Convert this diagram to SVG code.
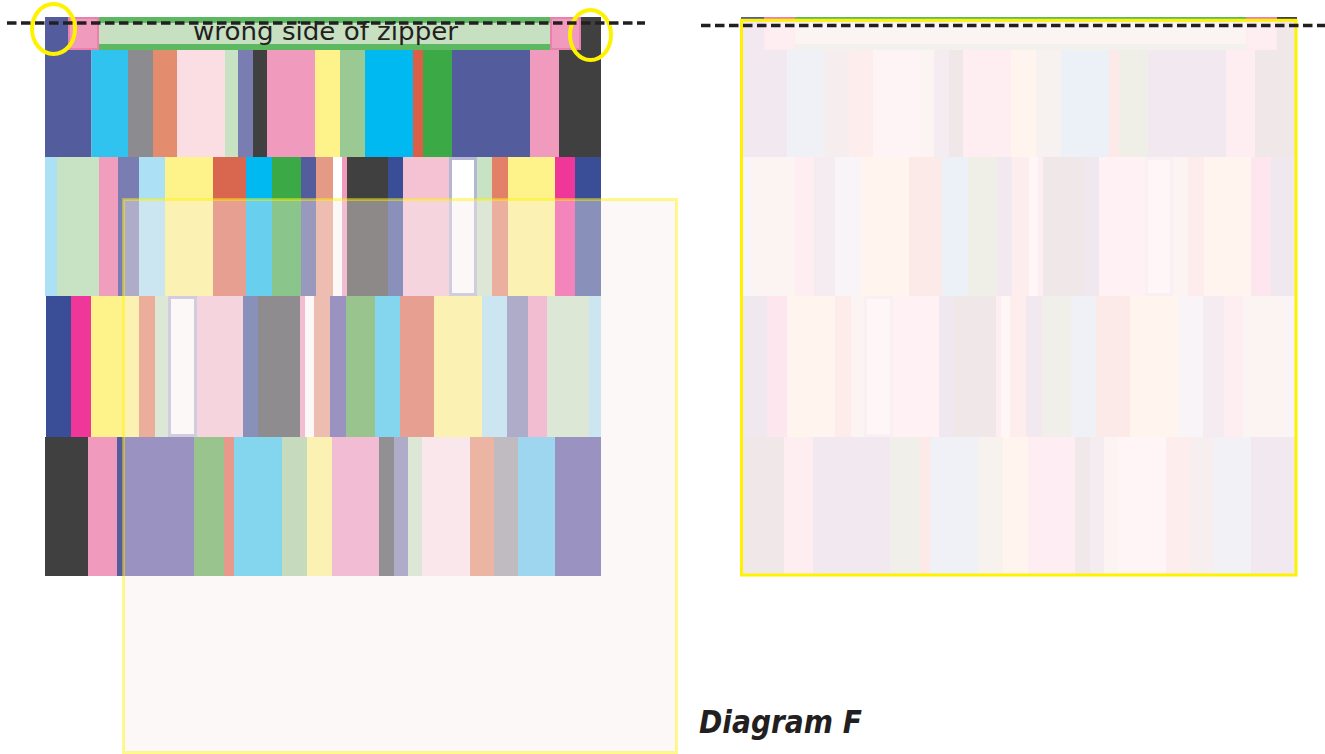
<svg xmlns="http://www.w3.org/2000/svg" xmlns:xlink="http://www.w3.org/1999/xlink" width="1325" height="754" viewBox="0 0 1325 754">
<style>
.dash{stroke:#231f20;stroke-width:3.5;stroke-dasharray:9.5 4.5;fill:none}
.ring{fill:none;stroke:#fff200;stroke-width:4}
.wb{fill:#ffffff;stroke:#b5b5d6;stroke-width:3}
.lbl{font-family:"DejaVu Sans","Liberation Sans",sans-serif;fill:#231f20}
</style>
<defs>
<g id="quilt">
  <!-- top strip -->
  <rect x="45" y="17" width="23" height="33" fill="#535c9c"/>
  <rect x="69" y="18" width="29" height="31" fill="#f09abd" stroke="#e882ad" stroke-width="2"/>
  <rect x="99" y="17" width="451" height="33" fill="#5db862"/>
  <rect x="99" y="23" width="451" height="21" fill="#c6e0c1"/>
  <rect x="551" y="18" width="29" height="31" fill="#f09abd" stroke="#e882ad" stroke-width="2"/>
  <rect x="581" y="17" width="20" height="33" fill="#404040"/>
  <!-- row 1 -->
  <g transform="translate(0,50)">
    <rect x="45" width="46.5" height="107" fill="#535c9c"/>
    <rect x="91.5" width="36.5" height="107" fill="#31c3f0"/>
    <rect x="128" width="25" height="107" fill="#8c8b8f"/>
    <rect x="153" width="24" height="107" fill="#e38c6e"/>
    <rect x="177" width="48" height="107" fill="#fbdee3"/>
    <rect x="225" width="13" height="107" fill="#c8e2c4"/>
    <rect x="238" width="15" height="107" fill="#7a7db1"/>
    <rect x="253" width="14" height="107" fill="#404040"/>
    <rect x="267" width="48" height="107" fill="#f09abd"/>
    <rect x="315" width="25" height="107" fill="#fef38a"/>
    <rect x="340" width="25" height="107" fill="#9ac993"/>
    <rect x="365" width="48" height="107" fill="#00b9f1"/>
    <rect x="413" width="10" height="107" fill="#db5e47"/>
    <rect x="423" width="29" height="107" fill="#3ca947"/>
    <rect x="452" width="78" height="107" fill="#535c9c"/>
    <rect x="530" width="29" height="107" fill="#f09abd"/>
    <rect x="559" width="42" height="107" fill="#404040"/>
  </g>
  <!-- row 2 -->
  <g transform="translate(0,157)">
    <rect x="45" width="12" height="139" fill="#ace0f5"/>
    <rect x="57" width="42" height="139" fill="#c8e2c4"/>
    <rect x="99" width="19" height="139" fill="#f09ebe"/>
    <rect x="118" width="21" height="139" fill="#7a7db1"/>
    <rect x="139" width="26" height="139" fill="#ace0f5"/>
    <rect x="165" width="48" height="139" fill="#fef38a"/>
    <rect x="213" width="33" height="139" fill="#d9674f"/>
    <rect x="246" width="26" height="139" fill="#00b9f1"/>
    <rect x="272" width="29" height="139" fill="#3ca947"/>
    <rect x="301" width="15" height="139" fill="#535c9c"/>
    <rect x="316" width="17" height="139" fill="#e49a85"/>
    <rect x="333" width="9" height="139" fill="#ffffff"/>
    <rect x="342" width="5" height="139" fill="#f09abd"/>
    <rect x="347" width="41" height="139" fill="#404040"/>
    <rect x="388" width="15" height="139" fill="#3a4d97"/>
    <rect x="403" width="46" height="139" fill="#f5c2d3"/>
    <rect x="450.5" y="1.5" width="25" height="136" class="wb"/>
    <rect x="477" width="15" height="139" fill="#c8e2c4"/>
    <rect x="492" width="16" height="139" fill="#e38068"/>
    <rect x="508" width="47" height="139" fill="#fef38a"/>
    <rect x="555" width="20" height="139" fill="#ef3799"/>
    <rect x="575" width="26" height="139" fill="#3a4d97"/>
  </g>
  <!-- row 3 -->
  <g transform="translate(0,296)">
    <rect x="46" width="25" height="141" fill="#3a4d97"/>
    <rect x="71" width="20" height="141" fill="#ef3799"/>
    <rect x="91" width="48" height="141" fill="#fef38a"/>
    <rect x="139" width="16" height="141" fill="#e2805f"/>
    <rect x="155" width="13" height="141" fill="#c8e2c4"/>
    <rect x="169.5" y="1.5" width="26" height="138" class="wb"/>
    <rect x="197" width="46" height="141" fill="#f5c2d3"/>
    <rect x="243" width="15" height="141" fill="#3a4d97"/>
    <rect x="258" width="42" height="141" fill="#44464f"/>
    <rect x="300" width="5" height="141" fill="#f09abd"/>
    <rect x="305" width="9" height="141" fill="#ffffff"/>
    <rect x="314" width="16" height="141" fill="#e49a85"/>
    <rect x="330" width="16" height="141" fill="#5650a0"/>
    <rect x="346" width="29" height="141" fill="#55a64a"/>
    <rect x="375" width="25" height="141" fill="#31c3f0"/>
    <rect x="400" width="34" height="141" fill="#d9674f"/>
    <rect x="434" width="48" height="141" fill="#fef38a"/>
    <rect x="482" width="25" height="141" fill="#ace0f5"/>
    <rect x="507" width="21" height="141" fill="#7a7db1"/>
    <rect x="528" width="19" height="141" fill="#f09abd"/>
    <rect x="547" width="42" height="141" fill="#c8e2c4"/>
    <rect x="589" width="12" height="141" fill="#ace0f5"/>
  </g>
  <!-- row 4 -->
  <g transform="translate(0,437)">
    <rect x="45" width="43" height="139" fill="#404040"/>
    <rect x="88" width="29" height="139" fill="#f09abd"/>
    <rect x="117" width="5" height="139" fill="#535c9c"/>
    <rect x="122" width="72" height="139" fill="#5650a0"/>
    <rect x="194" width="30" height="139" fill="#55a64a"/>
    <rect x="224" width="10" height="139" fill="#db5e47"/>
    <rect x="234" width="48" height="139" fill="#31c3f0"/>
    <rect x="282" width="25" height="139" fill="#a3cd9c"/>
    <rect x="307" width="25" height="139" fill="#fef38a"/>
    <rect x="332" width="47" height="139" fill="#f098c4"/>
    <rect x="379" width="15" height="139" fill="#4a4c55"/>
    <rect x="394" width="14" height="139" fill="#7a7db1"/>
    <rect x="408" width="14" height="139" fill="#c8e2c4"/>
    <rect x="422" width="48" height="139" fill="#fbe2ec"/>
    <rect x="470" width="24" height="139" fill="#e38c6e"/>
    <rect x="494" width="24" height="139" fill="#9896a2"/>
    <rect x="518" width="37" height="139" fill="#60c5f2"/>
    <rect x="555" width="46" height="139" fill="#5650a0"/>
  </g>
</g>
</defs>

<g id="left-quilt">
  <use xlink:href="#quilt" href="#quilt"/>
  <text class="lbl" x="193" y="39.5" font-size="24" textLength="265" lengthAdjust="spacingAndGlyphs">wrong side of zipper</text>
</g>
<rect id="left-overlay" x="123.5" y="199.5" width="553" height="553" fill="#f7eeec" fill-opacity="0.42" stroke="#fff200" stroke-opacity="0.45" stroke-width="3"/>

<g id="right-quilt">
  <use xlink:href="#quilt" href="#quilt" x="696"/>
  <rect x="741.5" y="20.3" width="554.5" height="554.7" fill="#fff5f6" fill-opacity="0.92" stroke="#fff200" stroke-width="3"/>
</g>

<g id="markers">
  <ellipse class="ring" cx="53.5" cy="29" rx="21.5" ry="25"/>
  <ellipse class="ring" cx="590.5" cy="35" rx="20.5" ry="25"/>
  <line class="dash" x1="7" y1="23" x2="645" y2="23"/>
  <line class="dash" x1="701" y1="25.5" x2="1325" y2="25.5"/>
</g>

<text id="caption" class="lbl" x="699" y="733" font-size="32" font-weight="bold" font-style="italic" textLength="163" lengthAdjust="spacingAndGlyphs">Diagram F</text>
</svg>
